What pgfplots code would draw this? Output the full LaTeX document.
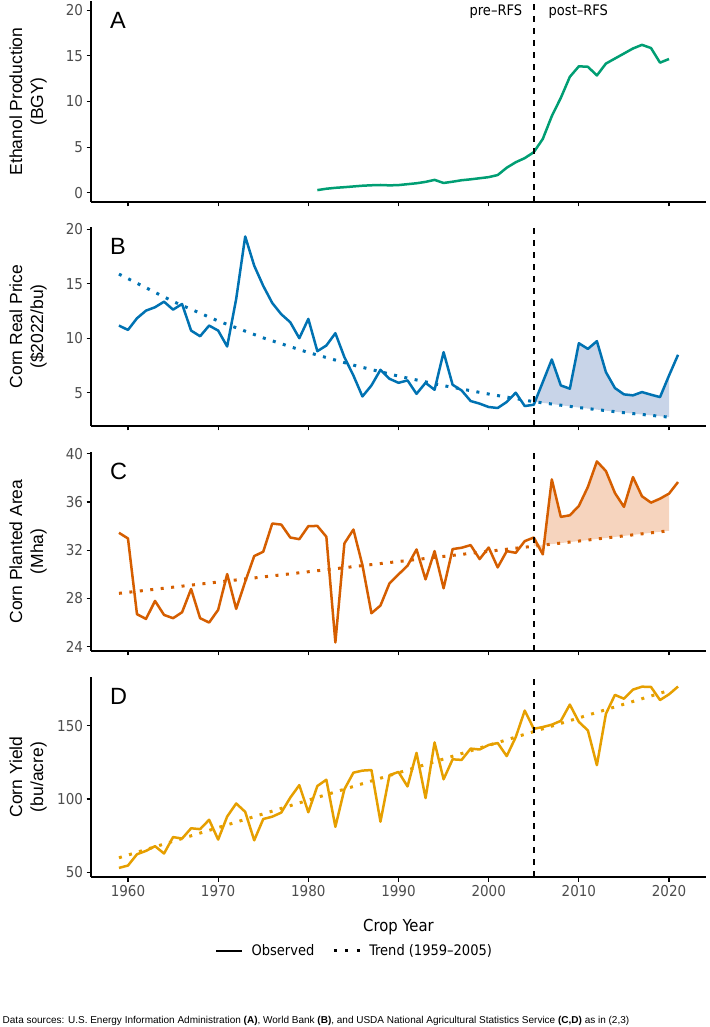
\documentclass[border=0pt]{standalone}
\usepackage{fontspec}
\setmainfont{Liberation Sans}
\newfontfamily\cond{DejaVu Sans Condensed}
\usepackage{pgfplots}
\pgfplotsset{compat=1.18}
\usepgfplotslibrary{fillbetween}

\definecolor{cgreen}{HTML}{009E73}
\definecolor{cblue}{HTML}{0072B2}
\definecolor{corange}{HTML}{D55E00}
\definecolor{cyellow}{HTML}{E69F00}
\definecolor{bfill}{RGB}{200,212,232}
\definecolor{cfill}{RGB}{246,212,190}
\definecolor{tickgray}{HTML}{4D4D4D}

\pgfplotsset{
  panel/.style={
    scale only axis, width=615pt,
    xmin=1955.9, xmax=2024.1,
    axis x line*=bottom, axis y line*=left,
    axis line style={line width=1.3pt, black, -},
    tick style={line width=1.2pt, black},
    major tick length=4.5pt, tick align=outside,
    xtick={1960,1970,...,2020},
    /pgf/number format/assume math mode=true,
    /pgf/number format/1000 sep={},
    ticklabel style={font=\cond\fontsize{15}{16}\selectfont, text=tickgray},
  },
  obs/.style={line width=2.5pt, line join=round},
  trend/.style={line width=3pt, dash pattern=on 3pt off 7.5pt},
  rfs/.style={line width=1.5pt, black, dash pattern=on 6pt off 6pt},
}

\begin{document}
\begin{tikzpicture}

% A: ethanol
\begin{axis}[panel, at={(91pt,825pt)}, anchor=south west, height=201pt,
  ymin=-1, ymax=21, ytick={0,5,...,20}, xticklabels={}]
\addplot[obs, cgreen] coordinates {
(1981,0.3) (1982,0.45) (1983,0.55) (1984,0.62) (1985,0.7) (1986,0.78)
(1987,0.83) (1988,0.86) (1989,0.82) (1990,0.85) (1991,0.95) (1992,1.05)
(1993,1.2) (1994,1.42) (1995,1.08) (1996,1.22) (1997,1.38) (1998,1.48)
(1999,1.6) (2000,1.72) (2001,1.95) (2002,2.75) (2003,3.35) (2004,3.8)
(2005,4.45) (2006,5.9) (2007,8.4) (2008,10.4) (2009,12.7) (2010,13.85)
(2011,13.8) (2012,12.85) (2013,14.15) (2014,14.7) (2015,15.25) (2016,15.8)
(2017,16.2) (2018,15.85) (2019,14.25) (2020,14.65)};
\addplot[rfs] coordinates {(2005,-1) (2005,21)};
\end{axis}

% B: price
\begin{axis}[panel, at={(91pt,601pt)}, anchor=south west, height=199pt,
  ymin=1.95, ymax=20.2, ytick={5,10,15,20}, xticklabels={}]
\addplot[obs, cblue, name path=obsB] coordinates {
(1959,11.16) (1960,10.76) (1961,11.83) (1962,12.53) (1963,12.84) (1964,13.35)
(1965,12.62) (1966,13.14) (1967,10.7) (1968,10.18) (1969,11.16) (1970,10.7)
(1971,9.24) (1972,13.6) (1973,19.33) (1974,16.65) (1975,14.8) (1976,13.23)
(1977,12.2) (1978,11.46) (1979,10.0) (1980,11.77) (1981,8.81) (1982,9.33)
(1983,10.46) (1984,8.26) (1985,6.58) (1986,4.66) (1987,5.67) (1988,7.1)
(1989,6.28) (1990,5.91) (1991,6.13) (1992,4.9) (1993,5.91) (1994,5.27)
(1995,8.72) (1996,5.73) (1997,5.21) (1998,4.24) (1999,4.0) (2000,3.69)
(2001,3.6) (2002,4.15) (2003,5.0) (2004,3.78) (2005,3.9) (2006,5.98)
(2007,8.05) (2008,5.67) (2009,5.37) (2010,9.54) (2011,9.02) (2012,9.73)
(2013,6.89) (2014,5.43) (2015,4.85) (2016,4.76) (2017,5.06) (2018,4.82)
(2019,4.6) (2020,6.58) (2021,8.48)};
\addplot[trend, cblue, name path=trB] coordinates {
(1959,15.88) (1965,13.37) (1970,11.58) (1975,10.03) (1980,8.69) (1985,7.53)
(1990,6.52) (1995,5.65) (2000,4.88) (2005,4.18) (2010,3.64) (2015,3.17) (2020,2.76)};
\addplot[bfill] fill between[of=obsB and trB, soft clip={domain=2005:2020}];
\addplot[rfs] coordinates {(2005,1.95) (2005,20.2)};
\end{axis}

% C: planted area
\begin{axis}[panel, at={(91pt,376pt)}, anchor=south west, height=199pt,
  ymin=23.65, ymax=40.15, ytick={24,28,...,40}, xticklabels={}]
\addplot[obs, corange, name path=obsC] coordinates {
(1959,33.45) (1960,32.98) (1961,26.7) (1962,26.31) (1963,27.8) (1964,26.64)
(1965,26.37) (1966,26.86) (1967,28.79) (1968,26.37) (1969,26.01) (1970,27.06)
(1971,30.03) (1972,27.14) (1973,29.4) (1974,31.52) (1975,31.88) (1976,34.22)
(1977,34.13) (1978,33.06) (1979,32.92) (1980,34.0) (1981,34.02) (1982,33.12)
(1983,24.36) (1984,32.57) (1985,33.72) (1986,30.77) (1987,26.78) (1988,27.42)
(1989,29.26) (1990,30.0) (1991,30.72) (1992,32.07) (1993,29.59) (1994,31.93)
(1995,28.85) (1996,32.1) (1997,32.21) (1998,32.43) (1999,31.27) (2000,32.23)
(2001,30.58) (2002,31.93) (2003,31.79) (2004,32.76) (2005,33.06) (2006,31.66)
(2007,37.88) (2008,34.77) (2009,34.9) (2010,35.68) (2011,37.25) (2012,39.37)
(2013,38.57) (2014,36.75) (2015,35.6) (2016,38.07) (2017,36.48) (2018,35.95)
(2019,36.28) (2020,36.7) (2021,37.66)};
\addplot[trend, corange, name path=trC] coordinates {
(1959,28.43) (1980,30.22) (2005,32.34) (2020,33.62)};
\addplot[cfill] fill between[of=obsC and trC, soft clip={domain=2005:2020}];
\addplot[rfs] coordinates {(2005,23.65) (2005,40.15)};
\end{axis}

% D: yield
\begin{axis}[panel, at={(91pt,150pt)}, anchor=south west, height=200pt,
  ymin=46.9, ymax=183.2, ytick={50,100,150},
  legend style={at={(0.4285,-0.37)}, anchor=center, draw=none, fill=none,
    legend columns=2, font=\cond\fontsize{14.5}{15}\selectfont,
    /tikz/every odd column/.append style={column sep=6pt},
    /tikz/every even column/.append style={column sep=16pt}},
  legend image code/.code={\draw[#1] (0pt,0pt) -- (26pt,0pt);}]
\addlegendimage{black, line width=2.5pt}
\addlegendentry{Observed}
\addlegendimage{black, line width=3pt, dash pattern=on 3pt off 8.5pt}
\addlegendentry{Trend (1959–2005)}
\addplot[obs, cyellow] coordinates {
(1959,53.1) (1960,54.7) (1961,62.4) (1962,64.7) (1963,67.9) (1964,62.9)
(1965,74.1) (1966,73.1) (1967,80.1) (1968,79.5) (1969,85.9) (1970,72.4)
(1971,88.1) (1972,97.0) (1973,91.3) (1974,71.9) (1975,86.4) (1976,88.0)
(1977,90.8) (1978,101.0) (1979,109.5) (1980,91.0) (1981,108.9) (1982,113.2)
(1983,81.1) (1984,106.7) (1985,118.0) (1986,119.4) (1987,119.8) (1988,84.6)
(1989,116.3) (1990,118.5) (1991,108.6) (1992,131.5) (1993,100.7) (1994,138.6)
(1995,113.5) (1996,127.1) (1997,126.7) (1998,134.4) (1999,133.8) (2000,136.9)
(2001,138.2) (2002,129.3) (2003,142.2) (2004,160.3) (2005,147.9) (2006,149.1)
(2007,150.7) (2008,153.3) (2009,164.4) (2010,152.6) (2011,146.8) (2012,123.1)
(2013,158.1) (2014,171.0) (2015,168.4) (2016,174.6) (2017,176.6) (2018,176.4)
(2019,167.5) (2020,171.4) (2021,176.7)};
\addplot[trend, cyellow] coordinates {(1959,60.0) (2005,146.0) (2020,174.0)};
\addplot[rfs] coordinates {(2005,46.9) (2005,183.2)};
\end{axis}

% y labels
\begin{scope}[every node/.style={rotate=90, align=center, inner sep=0pt,
    font=\fontsize{17.5}{21}\selectfont}]
\node at (28pt,925.5pt) {Ethanol Production\\(BGY)};
\node at (28pt,700.5pt) {Corn Real Price\\(\$2022/bu)};
\node at (28pt,475.5pt) {Corn Planted Area\\(Mha)};
\node at (28pt,250pt) {Corn Yield\\(bu/acre)};
\end{scope}

% panel letters
\begin{scope}[every node/.style={anchor=north west, inner sep=0pt,
    font=\fontsize{23.5}{24}\selectfont}]
\node at (110pt,1015.3pt) {A};
\node at (110pt,789.3pt) {B};
\node at (110pt,564.3pt) {C};
\node at (110pt,338.7pt) {D};
\end{scope}

\node[anchor=base east, inner sep=0pt, font=\cond\fontsize{14.5}{15}\selectfont] at (522.3pt,1011pt) {pre–RFS};
\node[anchor=base west, inner sep=0pt, font=\cond\fontsize{14.5}{15}\selectfont] at (548.5pt,1011pt) {post–RFS};

\node[anchor=base, inner sep=0pt, font=\cond\fontsize{16.5}{17}\selectfont] at (398.5pt,95pt) {Crop Year};

\node[anchor=base west, inner sep=0pt, font=\fontsize{10}{12}\selectfont] at (2.5pt,4pt) {Data sources: U.S. Energy Information Administration \textbf{(A)}, World Bank \textbf{(B)}, and USDA National Agricultural Statistics Service \textbf{(C,D)} as in (2,3)};

\path (0pt,0pt) rectangle (709pt,1027pt);
\end{tikzpicture}
\end{document}
